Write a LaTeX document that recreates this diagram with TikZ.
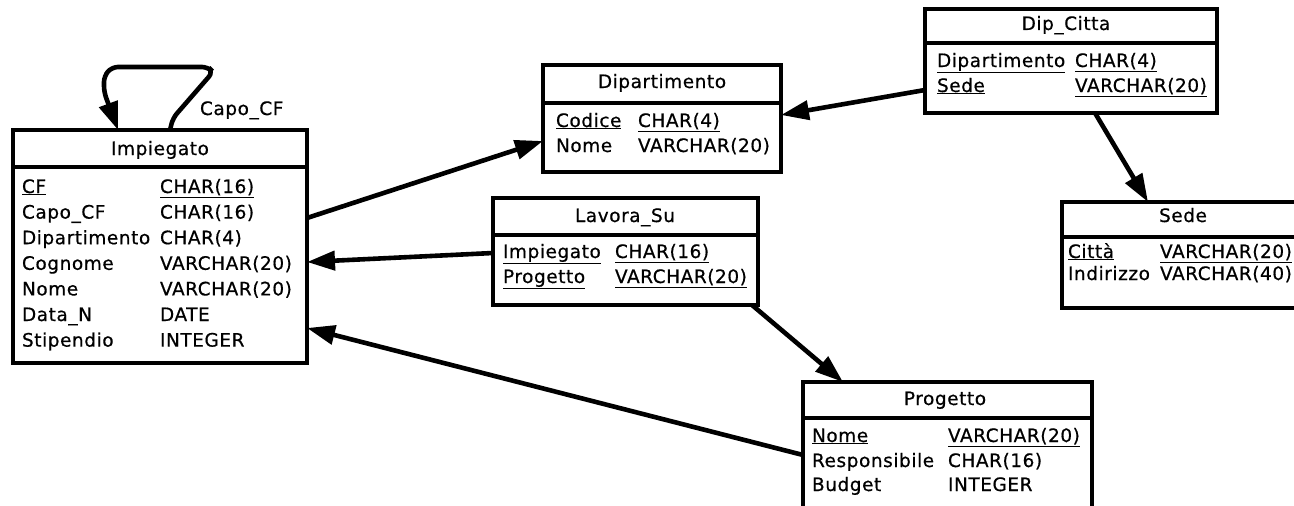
\documentclass[tikz,border=0pt]{standalone}
\usepackage{fontspec}
\setmainfont{DejaVu Sans}[LetterSpace=3,FakeBold=0.6]
\usetikzlibrary{arrows.meta,calc}
\tikzset{
  tbl/.style={draw, line width=3.4pt, rectangle, inner sep=0pt, outer sep=0pt, anchor=north west},
  hline/.style={line width=3.4pt},
  txt/.style={inner sep=0pt, outer sep=0pt, anchor=base west, font=\fontsize{18.5}{21}\selectfont},
  ttl/.style={inner sep=0pt, outer sep=0pt, anchor=base, font=\fontsize{18.5}{21}\selectfont},
  rel/.style={line width=4.6pt, -{Triangle[length=28pt,width=19pt]}},
}
\begin{document}
\begin{tikzpicture}[x=1pt,y=-1pt]
\useasboundingbox (0,0) rectangle (1294,506);
\clip (0,0) rectangle (1294,506);

% ---- tables ----
\node[tbl, minimum width=294pt, minimum height=233pt] (imp) at (13,130) {};
\draw[hline] (13,167) -- (307,167);
\node[tbl, minimum width=238pt, minimum height=107pt] (dip) at (543,65) {};
\draw[hline] (543,103) -- (781,103);
\node[tbl, minimum width=292pt, minimum height=104pt] (dc) at (925,9) {};
\draw[hline] (925,43) -- (1217,43);
\node[tbl, minimum width=250pt, minimum height=106pt] (sede) at (1062,202) {};
\draw[hline] (1062,237) -- (1312,237);
\node[tbl, minimum width=265pt, minimum height=107pt] (lav) at (493,198) {};
\draw[hline] (493,235) -- (758,235);
\node[tbl, minimum width=289pt, minimum height=150pt] (prog) at (803,382) {};
\draw[hline] (803,418) -- (1092,418);

% ---- Impiegato ----
\node[ttl] (impT) at (160,155) {Impiegato};
\node[txt] (imp1a) at (22,193) {\underline{CF}};
\node[txt] (imp1b) at (160,193) {\underline{CHAR(16)}};
\node[txt] (imp2a) at (22,218.6) {Capo\_CF};
\node[txt] (imp2b) at (160,218.6) {CHAR(16)};
\node[txt] (imp3a) at (22,244.2) {Dipartimento};
\node[txt] (imp3b) at (160,244.2) {CHAR(4)};
\node[txt] (imp4a) at (22,269.8) {Cognome};
\node[txt] (imp4b) at (160,269.8) {VARCHAR(20)};
\node[txt] (imp5a) at (22,295.4) {Nome};
\node[txt] (imp5b) at (160,295.4) {VARCHAR(20)};
\node[txt] (imp6a) at (22,321) {Data\_N};
\node[txt] (imp6b) at (160,321) {DATE};
\node[txt] (imp7a) at (22,346.6) {Stipendio};
\node[txt] (imp7b) at (160,346.6) {INTEGER};

% ---- Dipartimento ----
\node[ttl] (dipT) at (662,88) {Dipartimento};
\node[txt] (dip1a) at (556,127) {\underline{Codice}};
\node[txt] (dip1b) at (638,127) {\underline{CHAR(4)}};
\node[txt] (dip2a) at (556,152) {Nome};
\node[txt] (dip2b) at (638,152) {VARCHAR(20)};

% ---- Dip_Citta ----
\node[ttl] (dcT) at (1066,30) {Dip\_Citta};
\node[txt] (dc1a) at (937,67) {\underline{Dipartimento}};
\node[txt] (dc1b) at (1075,67) {\underline{CHAR(4)}};
\node[txt] (dc2a) at (937,92) {\underline{Sede}};
\node[txt] (dc2b) at (1075,92) {\underline{VARCHAR(20)}};

% ---- Sede ----
\node[ttl] (sedeT) at (1183,222) {Sede};
\node[txt] (sede1a) at (1068,258) {\underline{Città}};
\node[txt] (sede1b) at (1160,258) {\underline{VARCHAR(20)}};
\node[txt] (sede2a) at (1068,280) {Indirizzo};
\node[txt] (sede2b) at (1160,280) {VARCHAR(40)};

% ---- Lavora_Su ----
\node[ttl] (lavT) at (625,222) {Lavora\_Su};
\node[txt] (lav1a) at (503,258) {\underline{Impiegato}};
\node[txt] (lav1b) at (615,258) {\underline{CHAR(16)}};
\node[txt] (lav2a) at (503,283) {\underline{Progetto}};
\node[txt] (lav2b) at (615,283) {\underline{VARCHAR(20)}};

% ---- Progetto ----
\node[ttl] (progT) at (945,405) {Progetto};
\node[txt] (prog1a) at (812,442) {\underline{Nome}};
\node[txt] (prog1b) at (948,442) {\underline{VARCHAR(20)}};
\node[txt] (prog2a) at (812,467) {Responsibile};
\node[txt] (prog2b) at (948,467) {CHAR(16)};
\node[txt] (prog3a) at (812,491) {Budget};
\node[txt] (prog3b) at (948,491) {INTEGER};

% ---- self loop ----
\node[txt] (capo) at (200,115) {Capo\_CF};
\draw[rel, rounded corners=6pt] ($(imp.north west)+(157,0)$) -- ++(3,-12) -- (213,72) -- (208,67) -- (112,67) -- (104,76) -- (104,92) -- ($(imp.north west)+(105,0)$);

% ---- connectors ----
\draw[rel] ($(imp.north east)+(0,88)$) -- ($(dip.north west)+(0,76)$);
\draw[rel] ($(dc.north west)+(0,81)$) -- ($(dip.north east)+(0,50)$);
\draw[rel] ($(dc.south west)+(170,0)$) -- ($(sede.north west)+(86,0)$);
\draw[rel] ($(lav.north west)+(0,55)$) -- ($(imp.north east)+(0,132)$);
\draw[rel] ($(prog.north west)+(0,73)$) -- ($(imp.north east)+(0,198)$);
\draw[rel] ($(lav.south west)+(259,0)$) -- ($(prog.north west)+(40,0)$);
\end{tikzpicture}
\end{document}
